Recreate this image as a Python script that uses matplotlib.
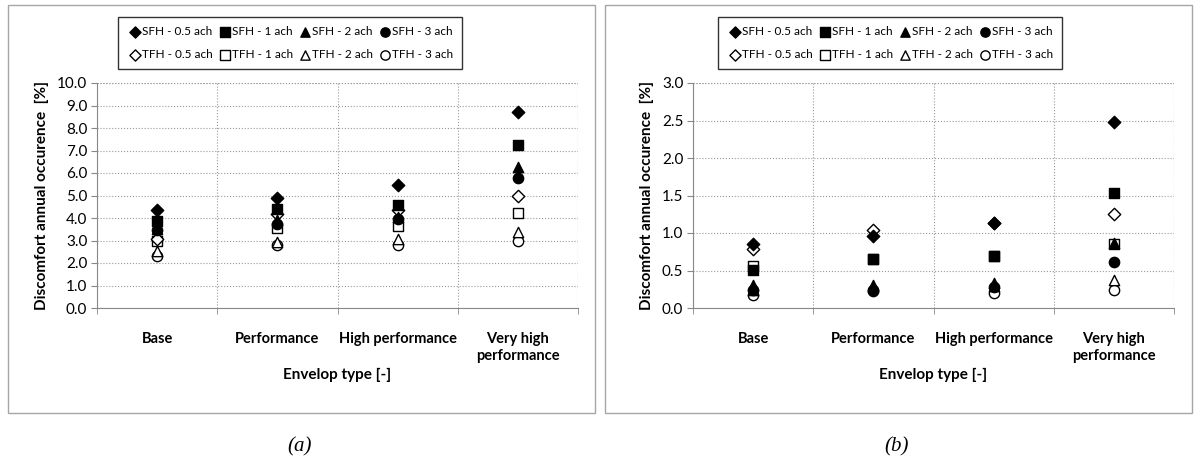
import numpy as np
import matplotlib.pyplot as plt
from matplotlib.patches import Rectangle

plt.rcParams['font.family'] = ['Lato', 'DejaVu Sans']

categories = ['Base', 'Performance', 'High performance', 'Very high\nperformance']
series = ['0.5 ach', '1 ach', '2 ach', '3 ach']
markers = ['D', 's', '^', 'o']

# (a) discomfort annual occurence [%]
sfh_a = [[4.35, 4.9, 5.45, 8.7],
         [3.85, 4.4, 4.6, 7.26],
         [3.5, 3.9, 4.05, 6.25],
         [3.45, 3.75, 3.95, 5.8]]
tfh_a = [[3.05, 4.2, 4.35, 4.98],
         [3.0, 3.55, 3.65, 4.23],
         [2.55, 2.92, 3.05, 3.4],
         [2.33, 2.78, 2.78, 3.0]]

# (b)
sfh_b = [[0.86, 0.96, 1.14, 2.48],
         [0.51, 0.66, 0.70, 1.53],
         [0.31, 0.31, 0.33, 0.87],
         [0.235, 0.235, 0.28, 0.61]]
tfh_b = [[0.79, 1.04, 1.13, 1.26],
         [0.56, 0.66, 0.70, 0.85],
         [0.24, 0.28, 0.30, 0.37],
         [0.17, 0.23, 0.20, 0.235]]

fig = plt.figure(figsize=(11.98, 4.63), dpi=100)

# outer frames
for x0 in [8, 605]:
    fig.patches.append(Rectangle((x0 / 1198, 1 - 413 / 463), 587 / 1198, 408 / 463,
                                 transform=fig.transFigure, fill=False,
                                 edgecolor='#a6a6a6', lw=1))


def draw(ax, sfh, tfh, ymax, step, leg_x):
    x = np.arange(len(categories))
    handles = {}
    for i in reversed(range(4)):
        h = ax.scatter(x, tfh[i], marker=markers[i], s=55 if i != 0 else 40,
                       facecolor='white', edgecolor='black', lw=1, zorder=3)
        handles['TFH - ' + series[i]] = h
    for i in reversed(range(4)):
        h = ax.scatter(x, sfh[i], marker=markers[i], s=55 if i != 0 else 40,
                       facecolor='black', edgecolor='black', lw=1, zorder=4)
        handles['SFH - ' + series[i]] = h
    ax.set_xlim(-0.5, 3.5)
    ax.set_ylim(0, ymax)
    ticks = np.arange(0, ymax + step / 2, step)
    ax.set_yticks(ticks)
    ax.set_yticklabels(['%.1f' % v for v in ticks], fontsize=11)
    ax.set_xticks(x)
    ax.set_xticklabels(categories, fontsize=10.5, fontweight='bold', linespacing=1.35)
    ax.set_xticks(np.arange(-0.5, 4, 1), minor=True)
    ax.tick_params(axis='x', which='major', length=0, pad=17)
    ax.tick_params(axis='x', which='minor', length=4, color='#888888')
    ax.tick_params(axis='y', length=4, color='#888888', pad=3)
    ax.grid(True, which='minor', axis='x', ls=':', color='#9a9a9a', lw=0.8)
    ax.grid(True, which='major', axis='y', ls=':', color='#9a9a9a', lw=0.8)
    for s in ['top', 'right']:
        ax.spines[s].set_visible(False)
    for s in ['left', 'bottom']:
        ax.spines[s].set_color('#888888')
    ax.axhline(ymax, color='#9a9a9a', ls=':', lw=0.8)
    ax.axvline(3.5, color='#9a9a9a', ls=':', lw=0.8)
    ax.set_xlabel('Envelop type [-]', fontsize=11, fontweight='bold', labelpad=3)
    ax.set_ylabel('Discomfort annual occurence  [%]', fontsize=11, fontweight='bold', labelpad=6)
    order = []
    for s in series:
        order += ['SFH - ' + s, 'TFH - ' + s]
    leg = fig.legend([handles[k] for k in order], order, ncol=4, loc='upper left',
                     bbox_to_anchor=(leg_x, 0.976), bbox_transform=fig.transFigure,
                     fontsize=8.5, frameon=True, fancybox=False, edgecolor='black',
                     handletextpad=-0.1, columnspacing=0.3, borderpad=0.75,
                     labelspacing=1.0, handlelength=1.4, markerscale=0.9)
    leg.get_frame().set_linewidth(1)


ax1 = fig.add_axes([97 / 1198, 1 - 308 / 463, 481 / 1198, 225 / 463])
draw(ax1, sfh_a, tfh_a, 10.0, 1.0, 112 / 1198)
ax2 = fig.add_axes([693 / 1198, 1 - 308 / 463, 481 / 1198, 225 / 463])
draw(ax2, sfh_b, tfh_b, 3.0, 0.5, 712 / 1198)

fig.text(300 / 1198, 1 - 447 / 463, '(a)', family='Liberation Serif', style='italic',
         fontsize=15, ha='center', va='center')
fig.text(897 / 1198, 1 - 447 / 463, '(b)', family='Liberation Serif', style='italic',
         fontsize=15, ha='center', va='center')

fig.savefig('out.png', dpi=100)
